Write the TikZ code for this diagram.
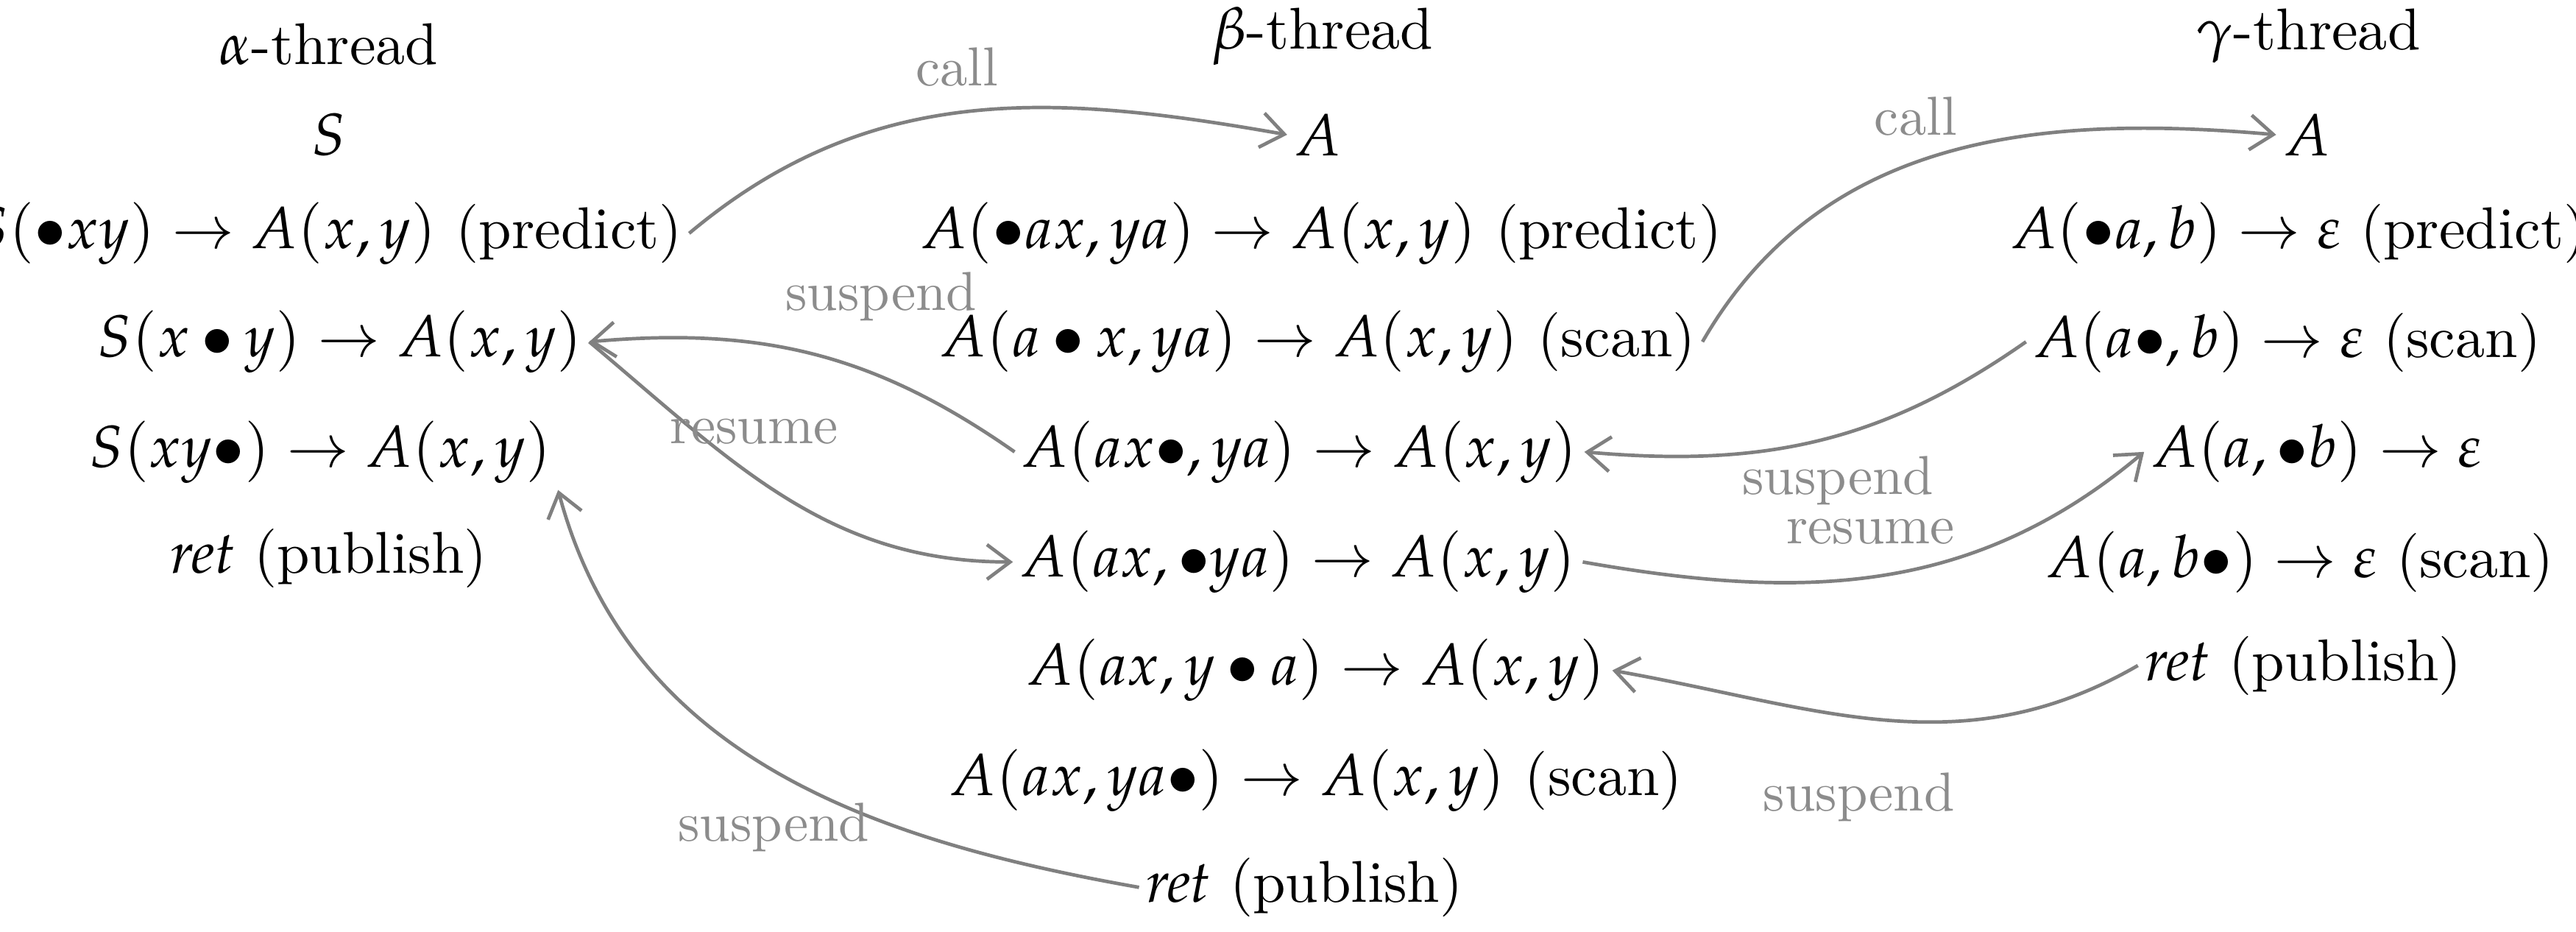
\documentclass[tikz,border=0pt]{standalone}
\usepackage{mathpazo}
\usetikzlibrary{arrows.meta}
\begin{document}
\begin{tikzpicture}[x=0.01cm,y=-0.01cm,
  t/.style={inner sep=1pt,font=\fontfamily{pplx}\fontsize{10.2}{12}\selectfont},
  lab/.style={text=black!45,font=\fontfamily{pplx}\fontsize{9.5}{11}\selectfont},
  arr/.style={draw=black!50,line width=0.6pt,-{Straight Barb[length=4pt,width=6pt]}}]
\useasboundingbox (0,0) rectangle (1568,567);
% alpha
\node[t] (ah) at (200,27) {$\alpha$-thread};
\node[t] (a0) at (200,82) {$S$};
\node[t] (a1) at (200,142) {$S(\bullet xy)\rightarrow A(x,y)$ (predict)};
\node[t] (a2) at (207,208) {$S(x\bullet y)\rightarrow A(x,y)$};
\node[t] (a3) at (195,275) {$S(xy\bullet)\rightarrow A(x,y)$};
\node[t] (a4) at (200,340) {$\mathit{ret}$ (publish)};
% beta
\node[t] (bh) at (805,22) {$\beta$-thread};
\node[t] (b0) at (802,82) {$A$};
\node[t] (b1) at (804,142) {$A(\bullet ax,ya)\rightarrow A(x,y)$ (predict)};
\node[t] (b2) at (802,208) {$A(a\bullet x,ya)\rightarrow A(x,y)$ (scan)};
\node[t] (b3) at (791,275) {$A(ax\bullet,ya)\rightarrow A(x,y)$};
\node[t] (b4) at (790,342) {$A(ax,\bullet ya)\rightarrow A(x,y)$};
\node[t] (b5) at (801,408) {$A(ax,y\bullet a)\rightarrow A(x,y)$};
\node[t] (b6) at (801,475) {$A(ax,ya\bullet)\rightarrow A(x,y)$ (scan)};
\node[t] (b7) at (794,540) {$\mathit{ret}$ (publish)};
% gamma
\node[t] (gh) at (1405,22) {$\gamma$-thread};
\node[t] (g0) at (1404,82) {$A$};
\node[t] (g1) at (1399,142) {$A(\bullet a,b)\rightarrow\varepsilon$ (predict)};
\node[t] (g2) at (1392,208) {$A(a\bullet,b)\rightarrow\varepsilon$ (scan)};
\node[t] (g3) at (1410,275) {$A(a,\bullet b)\rightarrow\varepsilon$};
\node[t] (g4) at (1400,342) {$A(a,b\bullet)\rightarrow\varepsilon$ (scan)};
\node[t] (g5) at (1402,405) {$\mathit{ret}$ (publish)};
% arrows
\draw[arr] (a1.east) to[out=40,in=170] node[lab,pos=0.48,above=1pt]{call} (b0.west);
\draw[arr] (b2.east) to[out=60,in=175] node[lab,pos=0.45,above=1pt]{call} (g0.west);
\draw[arr] (b3.west) to[out=145,in=5] node[lab,pos=0.33,above=6pt]{suspend} (a2.east);
\draw[arr] (a2.east) to[out=-40,in=180] node[lab,pos=0.42,above=2pt]{resume} (b4.west);
\draw[arr] (g2.west) to[out=-145,in=-5] node[lab,pos=0.45,below=0pt]{suspend} (b3.east);
\draw[arr] (b4.east) to[out=-10,in=-140] node[lab,pos=0.48,above=2pt]{resume} (g3.west);
\draw[arr] (g5.west) to[out=-150,in=-10] node[lab,pos=0.55,below=6pt]{suspend} (b5.east);
\draw[arr] (b7.west) to[out=170,in=-75] node[lab,pos=0.5,below=2pt]{suspend} (a3.south east);
\end{tikzpicture}
\end{document}
